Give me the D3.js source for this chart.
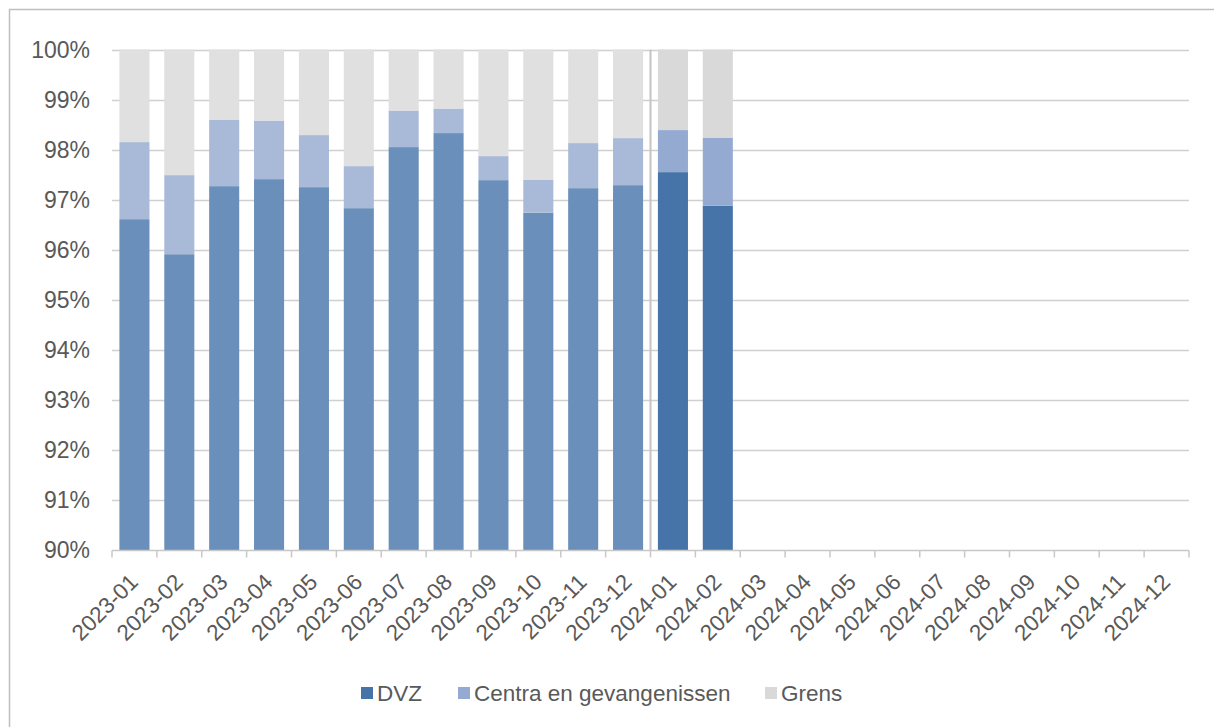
<!DOCTYPE html>
<html>
<head>
<meta charset="utf-8">
<script src="https://cdn.jsdelivr.net/npm/d3@7"></script>
<style>
  body { margin: 0; background: #fff; }
  svg { display: block; font-family: "Liberation Sans", Arial, sans-serif; }
  .tick-lbl { fill: #595959; font-size: 23px; }
  .x-lbl { fill: #595959; font-size: 22.5px; }
  .leg-lbl { fill: #595959; font-size: 22.5px; }
</style>
</head>
<body>
<div id="chart"></div>
<script>
// months shown on the x axis (2024-03 onward still empty)
const months = ["2023-01","2023-02","2023-03","2023-04","2023-05","2023-06","2023-07","2023-08",
  "2023-09","2023-10","2023-11","2023-12","2024-01","2024-02","2024-03","2024-04","2024-05",
  "2024-06","2024-07","2024-08","2024-09","2024-10","2024-11","2024-12"];
// cumulative share (%) — DVZ, then DVZ + Centra; Grens fills up to 100
const dvz    = [96.61, 95.91, 97.27, 97.41, 97.25, 96.83, 98.05, 98.33, 97.39, 96.74, 97.23, 97.29, 97.55, 96.88];
const centra = [98.15, 97.49, 98.60, 98.58, 98.29, 97.67, 98.78, 98.82, 97.87, 97.40, 98.13, 98.23, 98.39, 98.24];
const yTicks = [90, 91, 92, 93, 94, 95, 96, 97, 98, 99, 100];
const seriesNames = ["DVZ", "Centra en gevangenissen", "Grens"];

const W = 1214, H = 727;
const m = { top: 49.5, right: 25, bottom: 177, left: 112 };

const svg = d3.select("#chart").append("svg").attr("width", W).attr("height", H);

// outer frame (only top & left edges fall inside the picture)
svg.append("rect").attr("x", 9.5).attr("y", 9.5).attr("width", W + 20).attr("height", H + 20)
  .attr("fill", "none").attr("stroke", "#bfbfbf").attr("stroke-width", 1.5);

const x = d3.scaleBand().domain(months).range([m.left, W - m.right]).paddingInner(0.33).paddingOuter(0.165);
const y = d3.scaleLinear().domain([90, 100]).range([H - m.bottom, m.top]);

// gridlines
svg.append("g").selectAll("line").data(yTicks.slice(1)).join("line")
  .attr("x1", m.left).attr("x2", W - m.right)
  .attr("y1", (d) => Math.round(y(d)) + 0.5).attr("y2", (d) => Math.round(y(d)) + 0.5)
  .attr("stroke", "#d0d0d0").attr("stroke-width", 1.5);

// y labels
svg.append("g").selectAll("text").data(yTicks).join("text")
  .attr("class", "tick-lbl").attr("x", 90).attr("y", (d) => y(d) + 8)
  .attr("text-anchor", "end").text((d) => d + "%");

// stacked data
const rows = dvz.map((v, i) => ({ month: months[i], DVZ: v - 90, Centra: centra[i] - v, Grens: 100 - centra[i], year: months[i].slice(0, 4) }));
const stack = d3.stack().keys(["DVZ", "Centra", "Grens"])(rows);
const colors = {
  "2023": ["#6a8fba", "#a9bad8", "#e0e0e0"],
  "2024": ["#4674a8", "#94aad1", "#d9d9d9"]
};

stack.forEach((layer, k) => {
  svg.append("g").selectAll("rect").data(layer).join("rect")
    .attr("x", (d) => x(d.data.month))
    .attr("width", x.bandwidth())
    .attr("y", (d) => y(90 + d[1]))
    .attr("height", (d) => y(90 + d[0]) - y(90 + d[1]))
    .attr("fill", (d) => colors[d.data.year][k]);
});

// divider between 2023 and 2024
const step = x.step();
const xDiv = x("2024-01") - (step - x.bandwidth()) / 2;
svg.append("line").attr("x1", xDiv).attr("x2", xDiv).attr("y1", y(100)).attr("y2", y(90))
  .attr("stroke", "#c4c4c4").attr("stroke-width", 2);

// x axis line and ticks at category boundaries
const base = Math.round(y(90)) + 0.5;
svg.append("line").attr("x1", m.left).attr("x2", W - m.right).attr("y1", base).attr("y2", base)
  .attr("stroke", "#c8c8c8").attr("stroke-width", 1.5);
const bounds = d3.range(months.length + 1).map((i) => m.left + i * step);
svg.append("g").selectAll("line").data(bounds).join("line")
  .attr("x1", (d) => d).attr("x2", (d) => d).attr("y1", base).attr("y2", base + 7)
  .attr("stroke", "#c8c8c8").attr("stroke-width", 1.5);

// rotated x labels
svg.append("g").selectAll("text").data(months).join("text")
  .attr("class", "x-lbl")
  .attr("text-anchor", "end")
  .attr("transform", (d) => `translate(${x(d) + x.bandwidth() / 2 + 5},${base + 33}) rotate(-45)`)
  .text((d) => d);

// legend
const legend = [
  { name: seriesNames[0], color: colors["2024"][0], x: 361 },
  { name: seriesNames[1], color: colors["2024"][1], x: 458 },
  { name: seriesNames[2], color: colors["2024"][2], x: 765 }
];
const lg = svg.append("g").selectAll("g").data(legend).join("g")
  .attr("transform", (d) => `translate(${d.x},687)`);
lg.append("rect").attr("width", 12).attr("height", 12).attr("fill", (d) => d.color);
lg.append("text").attr("class", "leg-lbl").attr("x", 16).attr("y", 13.5).text((d) => d.name);
</script>
</body>
</html>
